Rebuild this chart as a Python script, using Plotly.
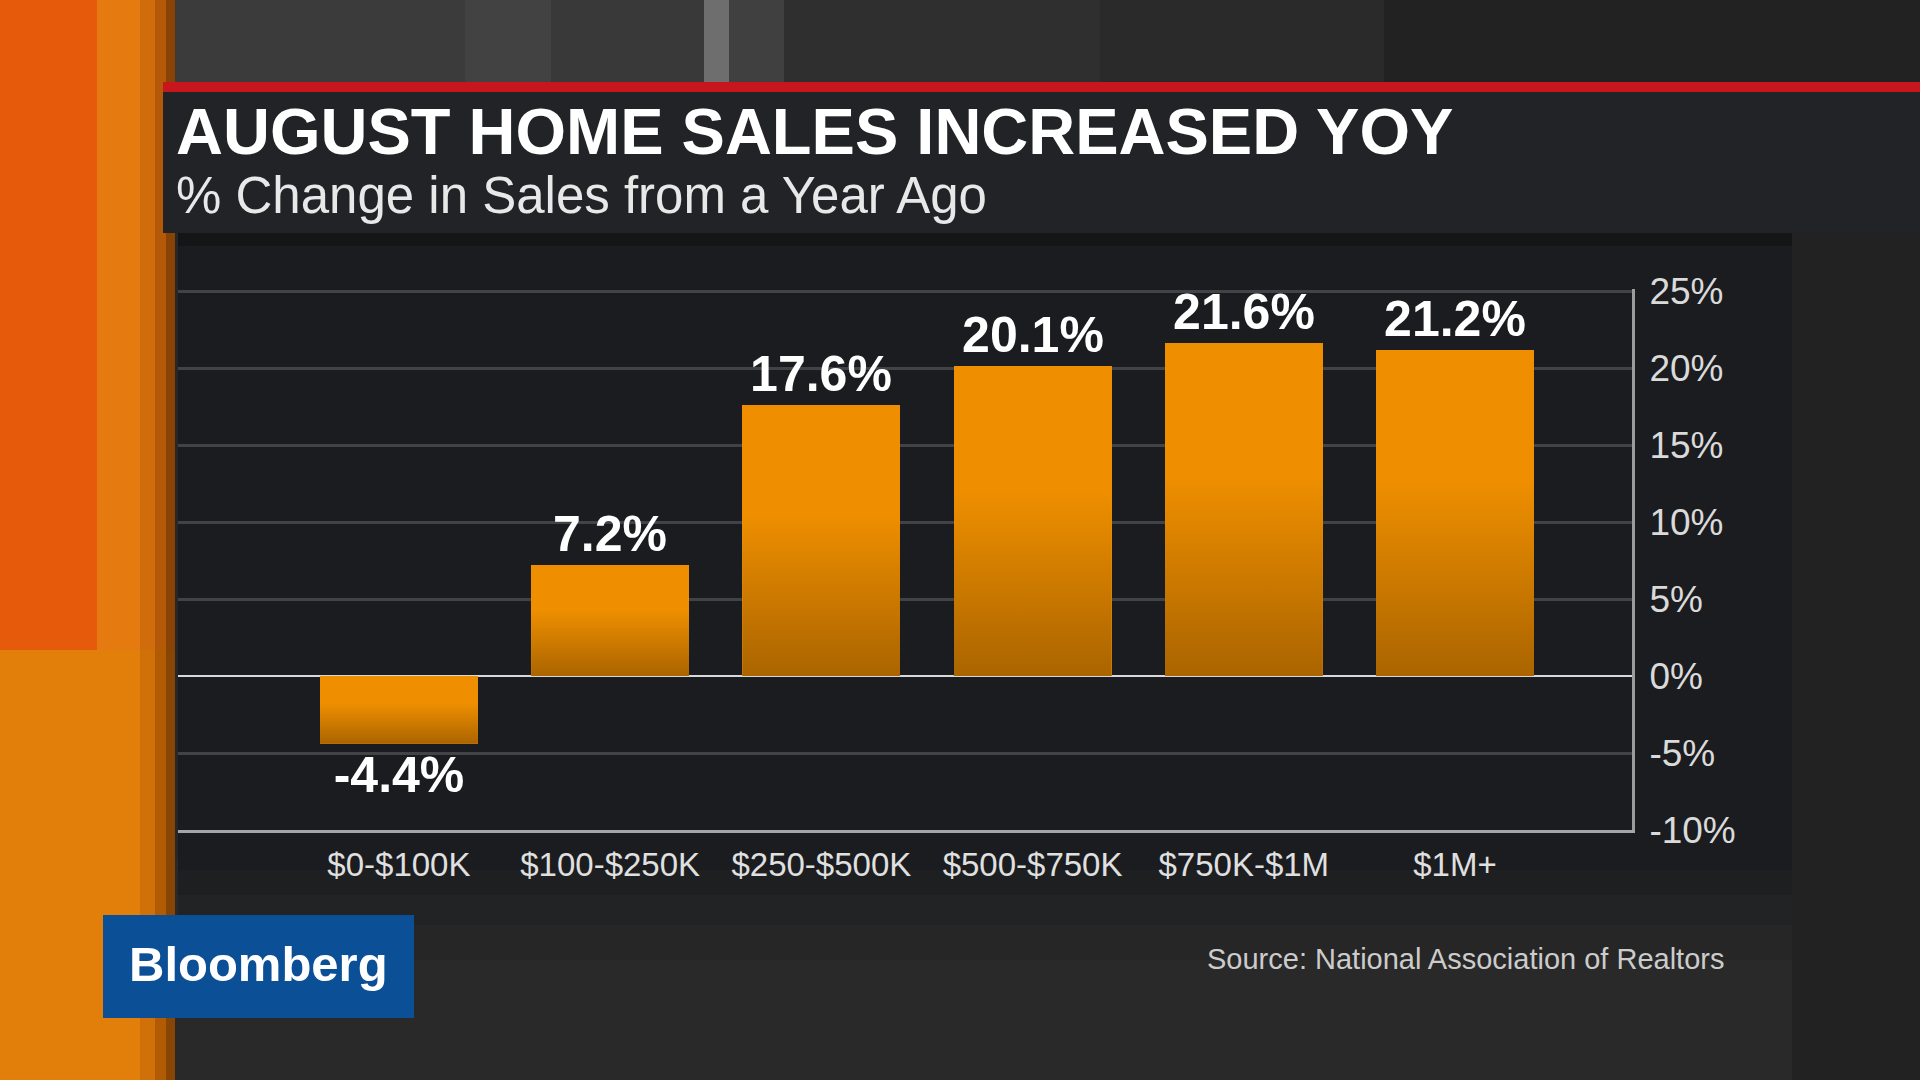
import plotly.graph_objects as go

# ---------------- data ----------------
categories = ["$0-$100K", "$100-$250K", "$250-$500K", "$500-$750K", "$750K-$1M", "$1M+"]
values = [-4.4, 7.2, 17.6, 20.1, 21.6, 21.2]
value_labels = ["-4.4%", "7.2%", "17.6%", "20.1%", "21.6%", "21.2%"]
y_ticks = [-10, -5, 0, 5, 10, 15, 20, 25]
y_tick_labels = ["-10%", "-5%", "0%", "5%", "10%", "15%", "20%", "25%"]

title = "AUGUST HOME SALES INCREASED YOY"
subtitle = "% Change in Sales from a Year Ago"
source = "Source: National Association of Realtors"
brand = "Bloomberg"

# ---------------- layout geometry (pixels) ----------------
W, H = 1920, 1080
PL, PR, PT, PB = 178, 1632, 289, 830
BAR_W = 0.748
X_RANGE = [-1.046, 5.838]
Y_RANGE = [-10, 25.13]
FONT = "Liberation Sans"


def fx(X):
    return (X - PL) / (PR - PL)


def fy(Y):
    return (PB - Y) / (PB - PT)


positions = list(range(len(categories)))

fig = go.Figure()

fig.add_trace(go.Bar(
    x=positions, y=values, width=BAR_W,
    marker=dict(color="#ef8f00", line=dict(width=0)),
    text=value_labels, textposition="outside",
    textfont=dict(family=FONT, size=50, color="white", weight="bold"),
    cliponaxis=False, constraintext="none",
    hoverinfo="skip", showlegend=False,
))

# vertical shading on each bar (darker toward the bottom)
for xi, v in zip(positions, values):
    lo, hi = min(0, v), max(0, v)
    x0, x1 = xi - BAR_W / 2, xi + BAR_W / 2
    fig.add_trace(go.Scatter(
        x=[x0, x1, x1, x0, x0], y=[lo, lo, hi, hi, lo],
        mode="lines", line=dict(width=0, color="rgba(0,0,0,0)"),
        fill="toself",
        fillgradient=dict(type="vertical", start=lo, stop=hi,
                          colorscale=[[0, "rgba(25,10,0,0.32)"],
                                      [0.6, "rgba(25,10,0,0)"],
                                      [1, "rgba(25,10,0,0)"]]),
        hoverinfo="skip", showlegend=False,
    ))

shapes = []


def rect(X0, Y0, X1, Y1, color):
    shapes.append(dict(type="rect", xref="paper", yref="paper",
                       x0=fx(X0), x1=fx(X1), y0=fy(Y1), y1=fy(Y0),
                       fillcolor=color, line=dict(width=0), layer="below"))


# top background bands
rect(175, 0, 465, 86, "#3b3b3b")
rect(465, 0, 551, 86, "#424242")
rect(551, 0, 704, 86, "#393939")
rect(704, 0, 729, 86, "#6e6e6e")
rect(729, 0, 784, 86, "#404040")
rect(784, 0, 1100, 86, "#2f2f2f")
rect(1100, 0, 1384, 86, "#2a2a2a")
rect(1384, 0, 1920, 86, "#222222")
# right side and bottom background
rect(1792, 233, 1920, 1080, "#222222")
rect(175, 860, 1792, 1080, "#292929")
# orange strip
rect(0, 0, 97, 650, "#e65a0b")
rect(97, 0, 175, 650, "#e57a10")
rect(0, 650, 175, 1080, "#e27f0b")
rect(140, 0, 175, 1080, "rgba(140,60,0,0.22)")
rect(155, 0, 175, 1080, "rgba(110,45,0,0.30)")
rect(166, 0, 175, 1080, "rgba(60,25,0,0.35)")
# red rule and title band
rect(163, 82, 1920, 92, "#c8161e")
rect(163, 92, 1920, 233, "#222327")
# chart panel (fading at the bottom)
rect(178, 233, 1792, 870, "#1b1c1f")
rect(178, 870, 1792, 895, "#1e1f21")
rect(178, 895, 1792, 925, "#222324")
rect(178, 925, 1792, 960, "#262627")
rect(178, 233, 1792, 246, "#141517")
# brand box
rect(103, 915, 414, 1018, "#0b4f97")

annotations = [
    dict(text=title, x=fx(174), y=fy(131), xanchor="left", yanchor="middle",
         font=dict(family=FONT, size=65, color="white", weight="bold")),
    dict(text=subtitle, x=fx(174), y=fy(195), xanchor="left", yanchor="middle",
         font=dict(family=FONT, size=51, color="#e8e8e8")),
    dict(text=source, x=fx(1726), y=fy(959), xanchor="right", yanchor="middle",
         font=dict(family=FONT, size=29, color="#cccccc")),
    dict(text=brand, x=fx(258), y=fy(964), xanchor="center", yanchor="middle",
         font=dict(family=FONT, size=49, color="white", weight="bold")),
]
for a in annotations:
    a.update(xref="paper", yref="paper", showarrow=False)

fig.update_layout(
    width=W, height=H,
    margin=dict(l=PL, r=W - PR, t=PT, b=H - PB, pad=0),
    paper_bgcolor="#272727", plot_bgcolor="rgba(0,0,0,0)",
    font=dict(family=FONT),
    shapes=shapes, annotations=annotations,
    showlegend=False, bargap=0,
    xaxis=dict(range=X_RANGE, tickvals=positions, ticktext=categories,
               tickfont=dict(family=FONT, size=33, color="#e0e0e0"),
               showgrid=False, zeroline=False, showline=True,
               linecolor="#a6a6a6", linewidth=3, ticks="",
               ticklabelstandoff=3, fixedrange=True),
    yaxis=dict(side="right", range=Y_RANGE, tickvals=y_ticks,
               ticktext=y_tick_labels,
               tickfont=dict(family=FONT, size=37, color="#dadada"),
               showgrid=True, gridcolor="#424347", gridwidth=3,
               zeroline=True, zerolinecolor="#d9d9d9", zerolinewidth=2,
               showline=True, linecolor="#9c9c9c", linewidth=3, ticks="",
               ticklabelstandoff=7, fixedrange=True),
)

fig.write_html("out.html")
